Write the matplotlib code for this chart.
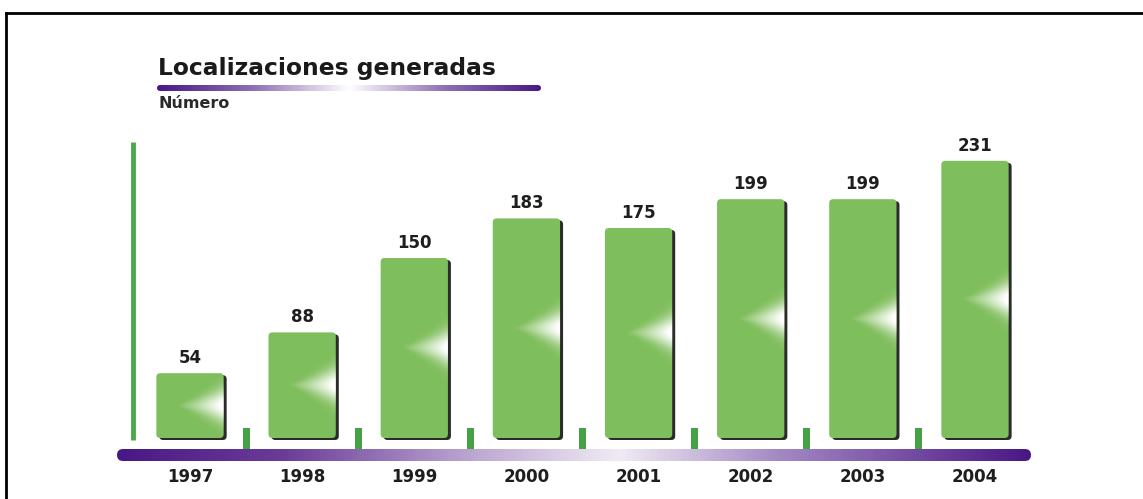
import numpy as np
import matplotlib
matplotlib.use("Agg")
import matplotlib.pyplot as plt
from matplotlib.patches import FancyBboxPatch
from matplotlib.colors import LinearSegmentedColormap

plt.rcParams['font.family'] = ['DejaVu Sans']

# ---- data ----
years = ['1997', '1998', '1999', '2000', '2001', '2002', '2003', '2004']
localizaciones = [54, 88, 150, 183, 175, 199, 199, 231]

titulo = 'Localizaciones generadas'
unidad = 'Número'

# ---- layout (one axes over the whole figure, data units) ----
W, H = 1143, 499
px_x = 112.14          # pixels per category
px_y = 1.2             # pixels per unit
x0_px, base_px = 190, 438

fig = plt.figure(figsize=(W / 100, H / 100), dpi=100)
ax = fig.add_axes([0, 0, 1, 1])
ax.set_xlim((0 - x0_px) / px_x, (W - x0_px) / px_x)
ax.set_ylim(-(H - base_px) / px_y, base_px / px_y)
ax.axis('off')

verde = '#7fbe5c'
verde_osc = '#46a046'


def px2x(p):
    return (p - x0_px) / px_x


def px2y(p):
    return (base_px - p) / px_y


aspect = px_x / px_y

# frame line (only top and left visible)
fig.add_artist(plt.Line2D([6 / W, 1.0], [1 - 13 / H, 1 - 13 / H], color='k', lw=2))
fig.add_artist(plt.Line2D([6 / W, 6 / W], [1 - 13 / H, 0], color='k', lw=2))

x = np.arange(len(years))
bars = ax.bar(x, localizaciones, width=0.6, color='none', edgecolor='none')


def glow(h_px):
    # soft white wedge pointing left, sitting on the right edge at mid height
    nx, ny = 80, max(int(h_px), 10)
    u = np.linspace(0, 1, nx)[None, :]
    dy = (np.linspace(0, 1, ny)[:, None] - 0.5) * h_px
    t = np.clip((u - 0.28) / 0.72, 0, 1)
    half = 30 * t + 1e-6
    a = np.exp(-(dy / (half * 0.55)) ** 2) * t ** 1.2
    img = np.ones((ny, nx, 4))
    img[..., 3] = np.clip(a * 1.1, 0, 1)
    return img


for b, v in zip(bars, localizaciones):
    bx, bw, bh = b.get_x(), b.get_width(), b.get_height()
    r = 0.035
    # shadow
    sh = FancyBboxPatch((bx + 3 / px_x, -2 / px_y), bw, bh,
                        boxstyle=f'round,pad=0,rounding_size={r}',
                        mutation_aspect=aspect, fc='#2b2b2b', ec='none', zorder=2)
    ax.add_patch(sh)
    p = FancyBboxPatch((bx, 0), bw, bh,
                       boxstyle=f'round,pad=0,rounding_size={r}',
                       mutation_aspect=aspect, fc=verde, ec='none', zorder=3)
    ax.add_patch(p)
    im = ax.imshow(glow(bh * px_y), extent=(bx, bx + bw, 0, bh),
                   aspect='auto', zorder=4, interpolation='bilinear')
    im.set_clip_path(p)
    ax.text(b.get_x() + bw / 2, bh + 6 / px_y, str(v), ha='center', va='bottom',
            fontsize=12, fontweight='bold', color='#1e1e1e', zorder=5)

# green vertical axis
ax.plot([px2x(133), px2x(133)], [px2y(440), px2y(142)], color='#4aa84a', lw=3.5,
        solid_capstyle='butt', zorder=2)

# green separators between years
for i in range(len(years) - 1):
    ax.add_patch(plt.Rectangle((i + 0.5 - 3.5 / px_x, px2y(450)), 7 / px_x, 22 / px_y,
                               fc=verde_osc, ec='none', zorder=2))


def purple_bar(xa, xb, ya, yb, stops, zorder=3):
    cmap = LinearSegmentedColormap.from_list('m', stops)
    grad = np.linspace(0, 1, 400)[None, :]
    pb = FancyBboxPatch((xa, ya), xb - xa, yb - ya,
                        boxstyle=f'round,pad=0,rounding_size={(yb - ya) / 2 / aspect}',
                        mutation_aspect=aspect, fc='none', ec='none', zorder=zorder)
    ax.add_patch(pb)
    im = ax.imshow(grad, extent=(xa, xb, ya, yb), cmap=cmap, aspect='auto',
                   zorder=zorder, interpolation='bilinear')
    im.set_clip_path(pb)


# purple base bar
purple_bar(px2x(117), px2x(1031), px2y(461), px2y(449),
           [(0.0, '#4a1886'), (0.18, '#6a3c98'), (0.38, '#b9a3cf'), (0.55, '#f0ebf4'),
            (0.72, '#a58cc4'), (0.9, '#6b3f9c'), (1.0, '#4a1886')])

# year labels
for i, yr in enumerate(years):
    ax.text(i, px2y(477.5), yr, ha='center', va='center', fontsize=12,
            fontweight='bold', color='#1e1e1e')

# title, underline and unit
fig.text(158 / W, 1 - 68 / H, titulo, ha='left', va='center', fontsize=16.8,
         fontweight='bold', color='#1a1a1a')
purple_bar(px2x(157), px2x(541), px2y(91), px2y(85),
           [(0.0, '#4a1886'), (0.25, '#8f70b3'), (0.5, '#ffffff'),
            (0.75, '#8f70b3'), (1.0, '#4a1886')])
fig.text(158 / W, 1 - 104 / H, unidad, ha='left', va='center', fontsize=11.5,
         fontweight='bold', color='#2a2a2a')

fig.savefig('out.png', dpi=100)
